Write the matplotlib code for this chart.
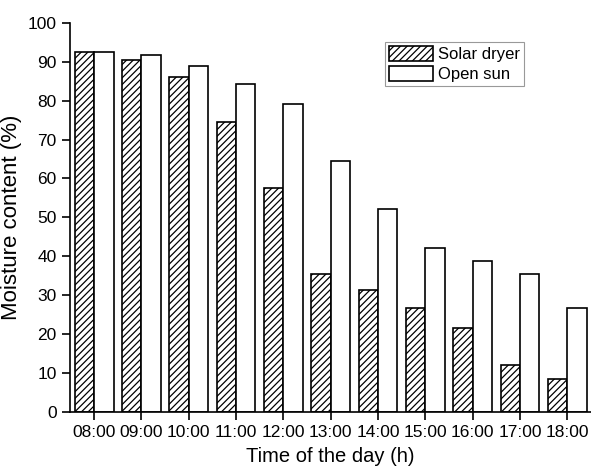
import matplotlib
matplotlib.use("Agg")
import matplotlib.pyplot as plt
import numpy as np

times = ["08:00", "09:00", "10:00", "11:00", "12:00", "13:00", "14:00",
         "15:00", "16:00", "17:00", "18:00"]
solar_dryer = [92.6, 90.6, 86.0, 74.6, 57.6, 35.3, 31.2, 26.6, 21.5, 12.1, 8.4]
open_sun = [92.6, 91.7, 88.9, 84.2, 79.2, 64.5, 52.1, 42.2, 38.8, 35.4, 26.6]

plt.rcParams['font.family'] = ['Liberation Sans', 'DejaVu Sans']
plt.rcParams['hatch.linewidth'] = 0.9

fig = plt.figure(figsize=(5.91, 4.66), dpi=100)
ax = fig.add_axes([70/591, 54.3/466, 521/591, (411.7-23)/466])

x = np.arange(len(times))
w = 0.41
ax.bar(x - w/2, solar_dryer, width=w, facecolor='white', edgecolor='black',
       hatch='/////', linewidth=1.2, label='Solar dryer')
ax.bar(x + w/2, open_sun, width=w, facecolor='white', edgecolor='black',
       linewidth=1.2, label='Open sun')

ax.set_xlim(-0.51, 10.5)
ax.set_ylim(0, 100)
ax.set_yticks(np.arange(0, 101, 10))
ax.set_xticks(x)
ax.set_xticklabels(times)
for s in ['top', 'right']:
    ax.spines[s].set_visible(False)
for s in ['left', 'bottom']:
    ax.spines[s].set_linewidth(1.2)
ax.tick_params(direction='out', length=6, width=1.2, labelsize=12.5)
ax.set_xlabel('Time of the day (h)', fontsize=14.5, labelpad=5)
ax.set_ylabel('Moisture content (%)', fontsize=16, labelpad=4)

leg = ax.legend(loc='upper left', bbox_to_anchor=(315/521, (411.7-42)/388.7),
                fontsize=12, frameon=True, fancybox=False, edgecolor='gray',
                handlelength=2.6, handleheight=1.0, handletextpad=0.3,
                borderpad=0.25, labelspacing=0.22, borderaxespad=0)
leg.get_frame().set_linewidth(0.8)

fig.savefig('out.png', dpi=100)
